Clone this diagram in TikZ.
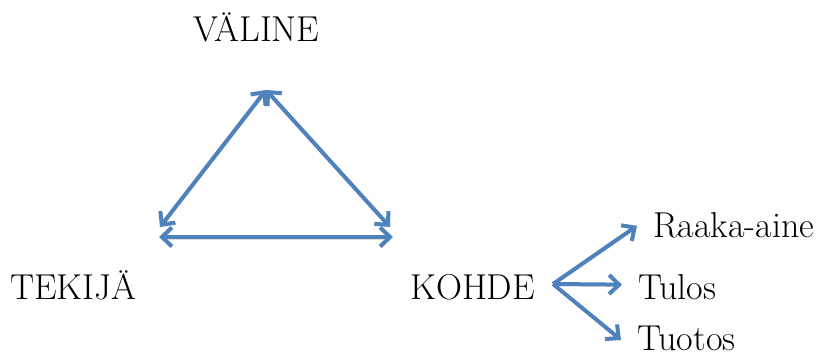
\documentclass[tikz,border=0pt]{standalone}
\usepackage{fontspec}
\usetikzlibrary{arrows.meta,positioning}
\definecolor{arrowblue}{HTML}{4F81BD}
\tikzset{
  word/.style={font=\fontsize{36}{42}\selectfont, inner sep=0pt, anchor=base west},
  barb/.tip={Straight Barb[length=10pt,width=19pt]},
  link/.style={draw=arrowblue, line width=4pt, -barb,
    preaction={draw=black!35, opacity=0.35, transform canvas={shift={(1pt,-2pt)}}}},
  twoway/.style={link, barb-barb}
}
\begin{document}
\begin{tikzpicture}[x=1pt,y=-1pt]
\useasboundingbox (0,0) rectangle (831,358);

% the three corners
\node[word] (valine) at (193,42) {VÄLINE};
\node[word] (tekija) at (10,300) {TEKIJÄ};
\node[word] (kohde) at (410,300) {KOHDE};

% what the object splits into
\node[word] (raaka) at (653,238) {Raaka-aine};
\node[word] (tulos) at (638,300) {Tulos};
\node[word] (tuotos) at (637,351) {Tuotos};

% triangle
\coordinate (top) at (266,90);
\coordinate (left) at (160,227);
\coordinate (right) at (390,227);
\coordinate (baseleft) at (159,237);
\coordinate (baseright) at (393,237);
\draw[twoway] (left) -- (top);
\draw[twoway] (right) -- (top);
\draw[twoway] (baseleft) -- (baseright);

% fork
\coordinate (fork) at (553,284);
\draw[link] (fork) -- ([xshift=-16pt]raaka.west);
\draw[link] (fork) -- ([xshift=-16pt,yshift=3pt]tulos.west);
\draw[link] (fork) -- ([xshift=-16pt,yshift=-1pt]tuotos.west);
\end{tikzpicture}
\end{document}
